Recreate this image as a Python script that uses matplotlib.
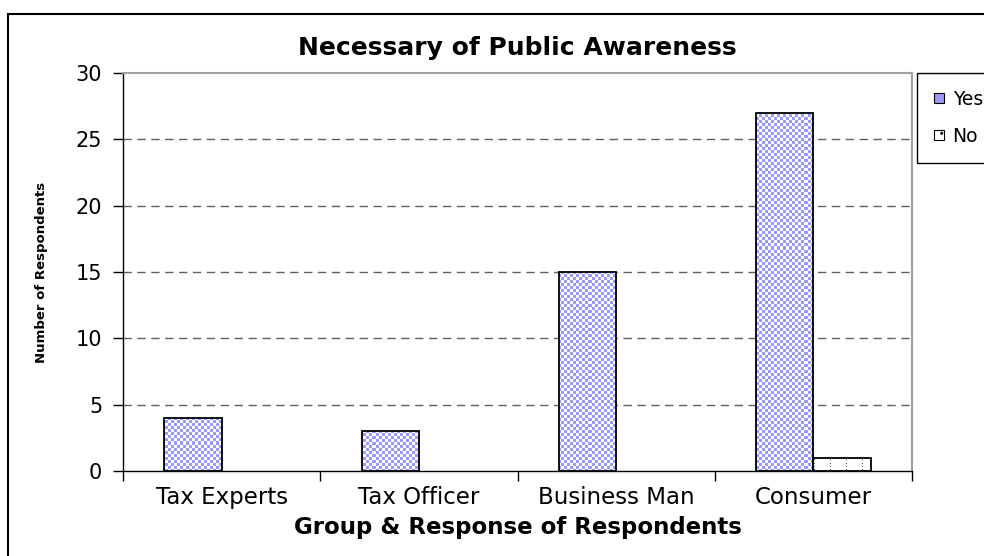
import numpy as np
import matplotlib
matplotlib.use("Agg")
import matplotlib.pyplot as plt
from matplotlib.patches import Patch, Rectangle

plt.rcParams["font.family"] = ["DejaVu Sans"]

groups = ["Tax Experts", "Tax Officer", "Business Man", "Consumer"]
yes_counts = [4, 3, 15, 27]
no_counts = [0, 0, 0, 1]
y_ticks = [0, 5, 10, 15, 20, 25, 30]

W, H = 984, 556
fig = plt.figure(figsize=(W / 100, H / 100), dpi=100)
ax = fig.add_axes([123 / W, 1 - 471 / H, (912 - 123) / W, (471 - 73) / H])

x = np.arange(len(groups))
bw = 0.29
ax.set_xlim(-0.5, len(groups) - 0.5)
ax.set_ylim(0, 30)

# pixel textures for the two fills, laid over the whole axes and clipped per bar
ph, pw = 398, 789
ii, jj = np.mgrid[0:ph, 0:pw]
checker = ((ii // 3 + jj // 3) % 2 == 0)
blue = np.array([0x99, 0x99, 0xFF]) / 255.0
tex_yes = np.ones((ph, pw, 3))
tex_yes[checker] = blue
dots = (jj % 16 == 3) & (ii % 3 == 0)
tex_no = np.ones((ph, pw, 3))
tex_no[dots] = 0.3
extent = (-0.5, len(groups) - 0.5, 0, 30)

yes_bars = ax.bar(x - bw / 2, yes_counts, bw, facecolor="none",
                  edgecolor="black", linewidth=1.3, zorder=4)
no_bars = ax.bar(x + bw / 2, no_counts, bw, facecolor="none",
                 edgecolor="black", linewidth=1.3, zorder=4)
for bars, tex in [(yes_bars, tex_yes), (no_bars, tex_no)]:
    for b in bars:
        if b.get_height() == 0:
            b.set_visible(False)
            continue
        im = ax.imshow(tex, extent=extent, aspect="auto", origin="upper",
                       interpolation="nearest", zorder=3)
        im.set_clip_path(b)

ax.set_yticks(y_ticks)
ax.tick_params(axis="y", direction="out", length=7, width=1, labelsize=15, pad=8)
ax.set_xticks(np.arange(-0.5, len(groups)), minor=False)
ax.set_xticklabels([])
ax.set_xticks(x, minor=True)
ax.set_xticklabels(groups, minor=True)
ax.tick_params(axis="x", which="major", direction="out", length=7, width=1)
ax.tick_params(axis="x", which="minor", length=0, labelsize=16.5, pad=11)

for v in y_ticks[1:-1]:
    ax.axhline(v, color="#606060", linestyle=(0, (6, 4)), linewidth=1, zorder=1)

for s in ["top", "right"]:
    ax.spines[s].set_color("#a0a0a0")
    ax.spines[s].set_linewidth(1.5)
for s in ["left", "bottom"]:
    ax.spines[s].set_color("black")
    ax.spines[s].set_linewidth(1)

ax.set_title("Necessary of Public Awareness", fontsize=18, fontweight="bold", pad=13)
ax.set_xlabel("Group & Response of Respondents", fontsize=16.5, fontweight="bold", labelpad=5)
ax.set_ylabel("Number of Respondents", fontsize=9.5, fontweight="bold", labelpad=20)

handles = [Patch(facecolor="#9999ff", edgecolor="black", linewidth=0.8),
           Patch(facecolor="white", edgecolor="black", linewidth=0.8, hatch="..")]
fig.legend(handles, ["Yes", "No"], loc="upper left",
           bbox_to_anchor=(917 / W, 1 - 73 / H), borderaxespad=0,
           frameon=True, fancybox=False, edgecolor="black", framealpha=1,
           fontsize=13.5, handlelength=0.55, handleheight=0.4, handletextpad=0.45,
           labelspacing=0.95, borderpad=0.9)

# outer chart frame, running off the right and bottom edges
fig.patches.append(Rectangle((8 / W, -0.05), 1.1, 1 - 14 / H + 0.05,
                             transform=fig.transFigure, fill=False,
                             edgecolor="black", linewidth=1.5))

fig.savefig("out.png", dpi=100)
